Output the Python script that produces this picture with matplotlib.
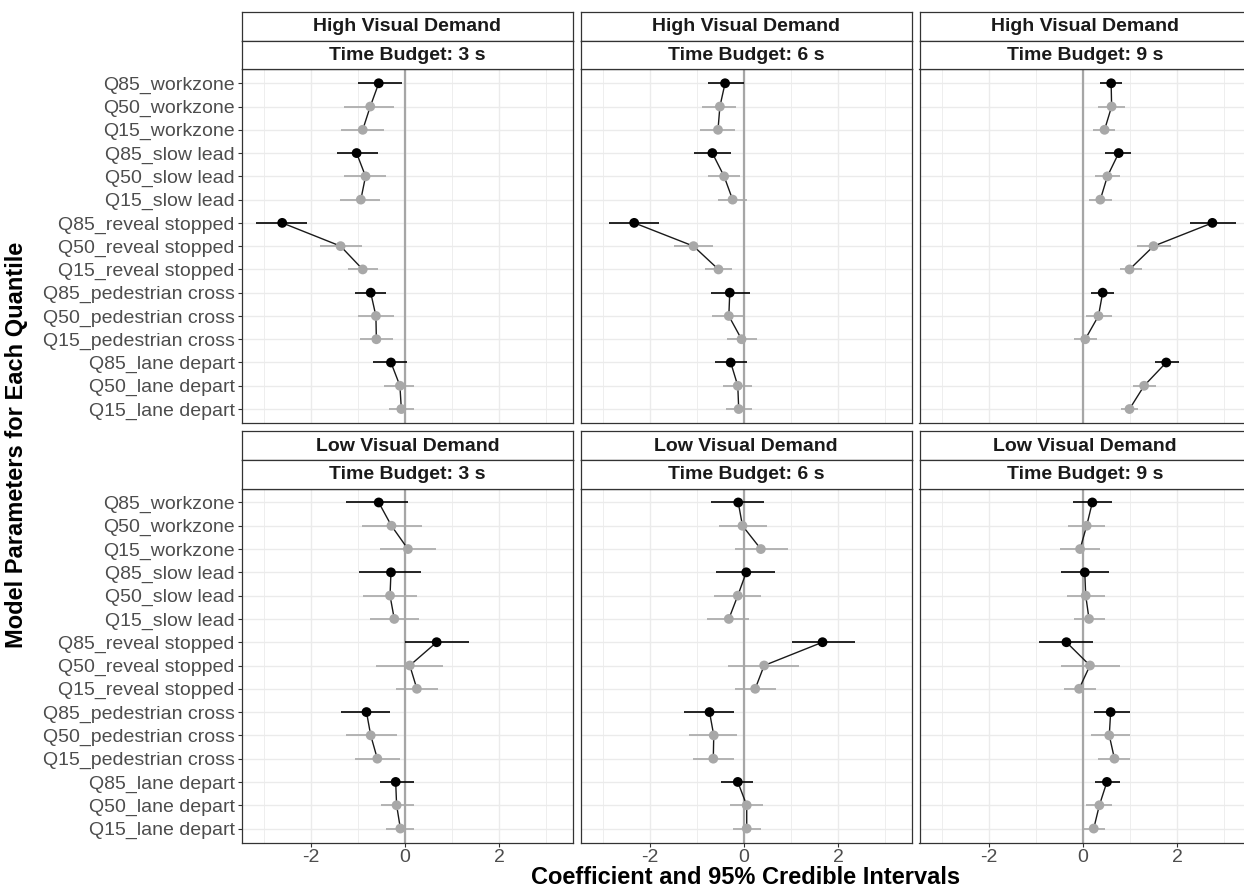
import numpy as np
import matplotlib.pyplot as plt

plt.rcParams['font.family'] = ['Liberation Sans', 'DejaVu Sans']
plt.rcParams['axes.unicode_minus'] = False

params = ['Q85_workzone', 'Q50_workzone', 'Q15_workzone',
          'Q85_slow lead', 'Q50_slow lead', 'Q15_slow lead',
          'Q85_reveal stopped', 'Q50_reveal stopped', 'Q15_reveal stopped',
          'Q85_pedestrian cross', 'Q50_pedestrian cross', 'Q15_pedestrian cross',
          'Q85_lane depart', 'Q50_lane depart', 'Q15_lane depart']
demand_labels = ['High Visual Demand', 'Low Visual Demand']
budget_labels = ['Time Budget: 3 s', 'Time Budget: 6 s', 'Time Budget: 9 s']

# high visual demand
high_3s_est = [-0.56, -0.74, -0.90, -1.03, -0.84, -0.94, -2.61, -1.37, -0.90, -0.73, -0.62, -0.61, -0.30, -0.11, -0.08]
high_3s_lo = [-1.00, -1.30, -1.36, -1.44, -1.29, -1.38, -3.16, -1.80, -1.22, -1.07, -1.00, -0.95, -0.69, -0.44, -0.35]
high_3s_hi = [-0.06, -0.23, -0.45, -0.58, -0.41, -0.53, -2.08, -0.91, -0.58, -0.40, -0.23, -0.26, 0.05, 0.19, 0.19]

high_6s_est = [-0.40, -0.51, -0.55, -0.67, -0.42, -0.24, -2.33, -1.07, -0.54, -0.30, -0.32, -0.05, -0.28, -0.13, -0.11]
high_6s_lo = [-0.76, -0.88, -0.93, -1.05, -0.76, -0.54, -2.87, -1.48, -0.83, -0.69, -0.67, -0.35, -0.61, -0.45, -0.37]
high_6s_hi = [0.01, -0.16, -0.18, -0.27, -0.08, 0.07, -1.80, -0.65, -0.25, 0.13, -0.01, 0.27, 0.07, 0.18, 0.17]

high_9s_est = [0.60, 0.61, 0.46, 0.76, 0.52, 0.37, 2.75, 1.50, 0.99, 0.42, 0.33, 0.05, 1.77, 1.30, 0.99]
high_9s_lo = [0.37, 0.33, 0.22, 0.47, 0.25, 0.14, 2.27, 1.15, 0.79, 0.18, 0.07, -0.19, 1.53, 1.06, 0.80]
high_9s_hi = [0.83, 0.90, 0.69, 1.02, 0.79, 0.62, 3.26, 1.87, 1.25, 0.66, 0.61, 0.30, 2.04, 1.55, 1.17]

# low visual demand
low_3s_est = [-0.56, -0.29, 0.06, -0.30, -0.32, -0.23, 0.67, 0.10, 0.25, -0.82, -0.73, -0.59, -0.20, -0.18, -0.10]
low_3s_lo = [-1.26, -0.91, -0.53, -0.97, -0.90, -0.75, 0.00, -0.61, -0.20, -1.36, -1.26, -1.07, -0.54, -0.52, -0.41]
low_3s_hi = [0.06, 0.36, 0.66, 0.34, 0.25, 0.30, 1.35, 0.81, 0.70, -0.31, -0.18, -0.11, 0.19, 0.18, 0.19]

low_6s_est = [-0.12, -0.03, 0.36, 0.05, -0.13, -0.32, 1.67, 0.43, 0.24, -0.73, -0.64, -0.65, -0.13, 0.06, 0.06]
low_6s_lo = [-0.69, -0.52, -0.18, -0.59, -0.64, -0.78, 1.02, -0.33, -0.18, -1.27, -1.16, -1.09, -0.48, -0.30, -0.23]
low_6s_hi = [0.42, 0.49, 0.93, 0.65, 0.37, 0.11, 2.37, 1.16, 0.68, -0.21, -0.14, -0.21, 0.20, 0.40, 0.37]

low_9s_est = [0.20, 0.08, -0.06, 0.04, 0.06, 0.13, -0.35, 0.15, -0.08, 0.59, 0.56, 0.67, 0.51, 0.35, 0.23]
low_9s_lo = [-0.21, -0.32, -0.49, -0.46, -0.34, -0.18, -0.93, -0.46, -0.41, 0.23, 0.18, 0.32, 0.25, 0.07, 0.00]
low_9s_hi = [0.61, 0.46, 0.37, 0.55, 0.46, 0.47, 0.22, 0.79, 0.27, 0.99, 0.99, 1.00, 0.78, 0.62, 0.47]

panels = [[(high_3s_est, high_3s_lo, high_3s_hi),
           (high_6s_est, high_6s_lo, high_6s_hi),
           (high_9s_est, high_9s_lo, high_9s_hi)],
          [(low_3s_est, low_3s_lo, low_3s_hi),
           (low_6s_est, low_6s_lo, low_6s_hi),
           (low_9s_est, low_9s_lo, low_9s_hi)]]

W, H = 1244, 891
fig = plt.figure(figsize=(W / 100, H / 100), dpi=100)


def rect(x0, y0, x1, y1):
    # pixel box (top-left origin) -> figure fraction
    return [x0 / W, 1 - y1 / H, (x1 - x0) / W, (y1 - y0) / H]


col_x = [241.7, 580.5, 919.5]
col_w = 331.5
row_y = [(69.3, 423.0), (488.5, 842.5)]
strip_y = [(11.7, 40.5, 69.3), (430.7, 459.6, 488.5)]

border = '#333333'
grey_pt = '#A8A8A8'
y = np.arange(len(params))
colors = ['black' if p.startswith('Q85') else grey_pt for p in params]

for r in range(2):
    for c in range(3):
        est, lo, hi = panels[r][c]
        x0 = col_x[c]
        ax = fig.add_axes(rect(x0, row_y[r][0], x0 + col_w, row_y[r][1]))
        ax.set_xlim(-3.47, 3.57)
        ax.set_ylim(len(params) - 0.4, -0.6)
        ax.set_xticks([-2, 0, 2])
        ax.set_xticks([-3, -1, 1, 3], minor=True)
        ax.set_yticks(y)
        ax.grid(which='major', color='#EBEBEB', lw=1.0)
        ax.grid(which='minor', axis='x', color='#EBEBEB', lw=0.6)
        ax.set_axisbelow(True)
        ax.axvline(0, color='#A6A6A6', lw=1.6, zorder=1.5)

        ax.hlines(y, lo, hi, colors=colors, lw=1.2, zorder=2)
        for g in range(0, len(params), 3):
            ax.plot(est[g:g + 3], y[g:g + 3], color='#1A1A1A', lw=1.0, zorder=3)
        ax.scatter(est, y, c=colors, s=50, zorder=4, linewidths=0)

        for s in ax.spines.values():
            s.set_color(border)
            s.set_linewidth(0.9)
        ax.tick_params(which='both', length=3, color=border, labelsize=14,
                       labelcolor='#4D4D4D', pad=2)
        ax.tick_params(which='minor', length=0)
        if c == 0:
            ax.set_yticklabels(params)
        else:
            ax.tick_params(axis='y', left=False, labelleft=False)
        if r == 0:
            ax.tick_params(axis='x', bottom=False, labelbottom=False)

        # facet strips
        labels = [demand_labels[r], budget_labels[c]]
        for k in range(2):
            sa = fig.add_axes(rect(x0, strip_y[r][k], x0 + col_w, strip_y[r][k + 1]))
            sa.set_xticks([])
            sa.set_yticks([])
            for s in sa.spines.values():
                s.set_color(border)
                s.set_linewidth(0.9)
            sa.text(0.5, 0.47, labels[k], ha='center', va='center', fontsize=14,
                    fontweight='bold', color='#1A1A1A', transform=sa.transAxes)

fig.text(746 / W, 1 - 878 / H, 'Coefficient and 95% Credible Intervals',
         ha='center', va='center', fontsize=17, fontweight='bold')
fig.text(17 / W, 1 - 445 / H, 'Model Parameters for Each Quantile',
         ha='center', va='center', rotation=90, fontsize=17, fontweight='bold')

fig.savefig('out.png', dpi=100)
